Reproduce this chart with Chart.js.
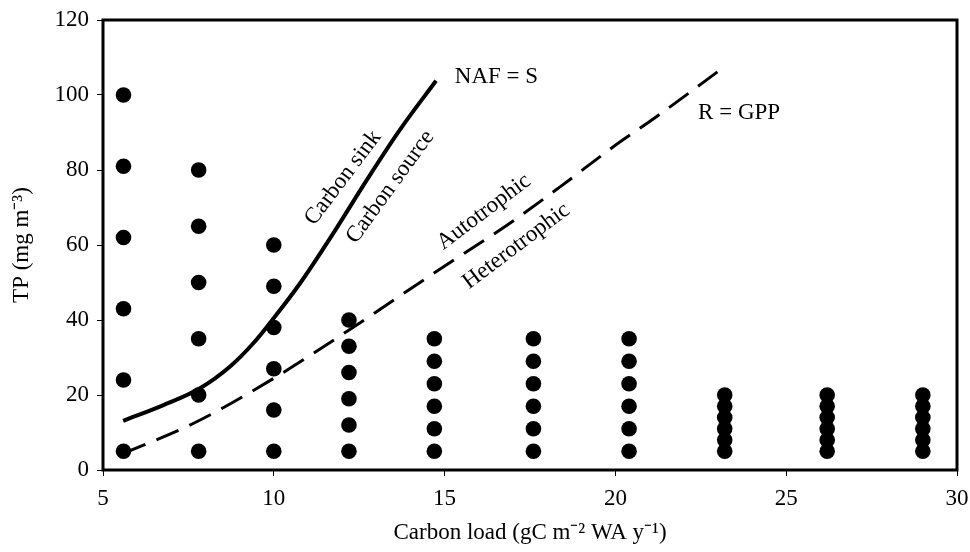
<!DOCTYPE html>
<html>
<head>
<meta charset="utf-8">
<script src="https://cdn.jsdelivr.net/npm/chart.js@4/dist/chart.umd.min.js"></script>
<style>
  html, body { margin: 0; padding: 0; background: #fff; }
  #wrap { width: 970px; height: 552px; position: relative; }
</style>
</head>
<body>
<div id="wrap"><canvas id="c"></canvas></div>
<script>
// ---- Data ----
const carbonLoad = [5.6, 7.8, 10.0, 12.2, 14.7, 17.6, 20.4, 23.2, 26.2, 29.0];
const tpAt5_6  = [5, 24, 43, 62, 81, 100];
const tpAt7_8  = [5, 20, 35, 50, 65, 80];
const tpAt10_0 = [5, 16, 27, 38, 49, 60];
const tpAt12_2 = [5, 12, 19, 26, 33, 40];
const tpAt14_7 = [5, 11, 17, 23, 29, 35];
const tpAt17_6 = [5, 11, 17, 23, 29, 35];
const tpAt20_4 = [5, 11, 17, 23, 29, 35];
const tpAt23_2 = [5, 8, 11, 14, 17, 20];
const tpAt26_2 = [5, 8, 11, 14, 17, 20];
const tpAt29_0 = [5, 8, 11, 14, 17, 20];
const tpColumns = [tpAt5_6, tpAt7_8, tpAt10_0, tpAt12_2, tpAt14_7, tpAt17_6, tpAt20_4, tpAt23_2, tpAt26_2, tpAt29_0];

// NAF = S curve (solid)
const nafLoad = [5.59, 6.77, 7.84, 8.72, 9.40, 9.99, 10.77, 11.74, 12.72, 13.69, 14.75];
const nafTP   = [13.1, 17.3, 21.8, 27.6, 33.8, 40.4, 49.8, 63.1, 77.3, 90.7, 103.8];
// R = GPP curve (dashed)
const gppLoad = [5.59, 7.64, 9.99, 12.18, 14.67, 16.91, 18.38, 19.94, 21.2, 23.26];
const gppTP   = [4.4, 12.4, 24.4, 37.2, 52.4, 65.8, 75.5, 86.2, 94.2, 108];

const xTicks = [5, 10, 15, 20, 25, 30];
const yTicks = [0, 20, 40, 60, 80, 100, 120];

const xTitle = 'Carbon load (gC m\u207B\u00B2 WA y\u207B\u00B9)';
const yTitle = 'TP (mg m\u207B\u00B3)';

// ---- Build datasets ----
const scatterPts = [];
carbonLoad.forEach((x, i) => tpColumns[i].forEach(y => scatterPts.push({x, y})));
const nafPts = nafLoad.map((x, i) => ({x, y: nafTP[i]}));
const gppPts = gppLoad.map((x, i) => ({x, y: gppTP[i]}));

const FONT = '"Liberation Serif", "Times New Roman", serif';
const FS = 23;
Chart.defaults.color = '#000';
Chart.defaults.font.family = FONT;

// annotation texts (positions in data units)
const notes = [
  {text: 'NAF = S', x: 15.30, y: 104.8, rot: 0, align: 'left'},
  {text: 'R = GPP', x: 22.42, y: 95.2, rot: 0, align: 'left'},
  {text: 'Carbon sink', x: 12.03, y: 77.9, rot: -53, align: 'center'},
  {text: 'Carbon source', x: 13.41, y: 75.5, rot: -54, align: 'center'},
  {text: 'Autotrophic', x: 16.15, y: 68.8, rot: -37, align: 'center'},
  {text: 'Heterotrophic', x: 17.10, y: 59.7, rot: -37, align: 'center'}
];

const framePlugin = {
  id: 'frame',
  afterDatasetsDraw(chart) {
    const {ctx, chartArea: a, scales} = chart;
    ctx.save();
    ctx.strokeStyle = '#000';
    ctx.lineWidth = 3;
    ctx.strokeRect(a.left, a.top, a.right - a.left, a.bottom - a.top);
    ctx.fillStyle = '#000';
    ctx.font = FS + 'px ' + FONT;
    ctx.textBaseline = 'middle';
    notes.forEach(n => {
      const px = scales.x.getPixelForValue(n.x);
      const py = scales.y.getPixelForValue(n.y);
      ctx.save();
      ctx.translate(px, py);
      ctx.rotate(n.rot * Math.PI / 180);
      ctx.textAlign = n.align;
      ctx.fillText(n.text, 0, 0);
      ctx.restore();
    });
    ctx.restore();
  }
};

new Chart(document.getElementById('c'), {
  type: 'scatter',
  data: {
    datasets: [
      {
        label: 'Lakes',
        data: scatterPts,
        backgroundColor: '#000',
        borderColor: '#000',
        pointRadius: 7.8,
        pointHoverRadius: 7.8,
        borderWidth: 0
      },
      {
        label: 'NAF = S',
        type: 'line',
        data: nafPts,
        borderColor: '#000',
        borderWidth: 4,
        pointRadius: 0,
        fill: false,
        cubicInterpolationMode: 'monotone'
      },
      {
        label: 'R = GPP',
        type: 'line',
        data: gppPts,
        borderColor: '#000',
        borderWidth: 3,
        borderDash: [24, 12],
        pointRadius: 0,
        fill: false,
        cubicInterpolationMode: 'monotone'
      }
    ]
  },
  options: {
    responsive: true,
    maintainAspectRatio: false,
    animation: false,
    layout: { padding: { left: 0, right: 13, top: 20, bottom: 0 } },
    plugins: { legend: { display: false }, tooltip: { enabled: false } },
    scales: {
      x: {
        type: 'linear',
        min: 5, max: 30,
        afterBuildTicks: s => { s.ticks = xTicks.map(v => ({value: v})); },
        afterFit: s => { s.height = 82; s.paddingLeft = 0; s.paddingRight = 0; },
        grid: { drawOnChartArea: false, drawTicks: true, tickLength: 6, color: '#000', lineWidth: 1 },
        border: { display: false },
        ticks: { font: { size: FS, family: FONT }, padding: 9, color: '#000', maxRotation: 0 },
        title: { display: true, text: xTitle, font: { size: FS, family: FONT }, color: '#000', padding: { top: 0, bottom: 5 } }
      },
      y: {
        type: 'linear',
        min: 0, max: 120,
        afterBuildTicks: s => { s.ticks = yTicks.map(v => ({value: v})); },
        afterFit: s => { s.width = 103; s.paddingTop = 0; s.paddingBottom = 0; },
        grid: { drawOnChartArea: false, drawTicks: true, tickLength: 6, color: '#000', lineWidth: 1 },
        border: { display: false },
        ticks: { font: { size: FS, family: FONT }, padding: 8, color: '#000' },
        title: { display: true, text: yTitle, font: { size: FS, family: FONT }, color: '#000', padding: { top: 8, bottom: 0 } }
      }
    }
  },
  plugins: [framePlugin]
});
</script>
</body>
</html>
